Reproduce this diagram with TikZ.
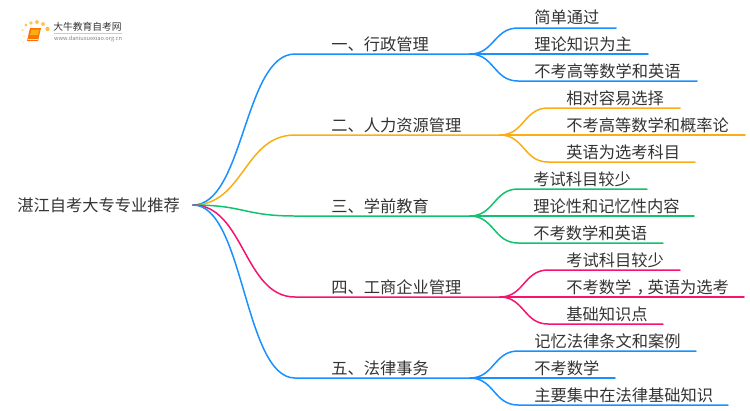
\documentclass[tikz,border=0pt]{standalone}
\usepackage{fontspec}
\setmainfont{Noto Sans CJK SC}
\usepackage{tikz}
\definecolor{mapblue}{HTML}{1890FF}
\definecolor{maporange}{HTML}{FAAD14}
\definecolor{mapgreen}{HTML}{13C26F}
\definecolor{mappink}{HTML}{F5136F}
\definecolor{maptext}{HTML}{333333}
\tikzset{
  maplabel/.style={anchor=west, inner sep=0pt, xshift=-0.02cm, text=maptext, font=\fontsize{9.25pt}{11pt}\selectfont},
  mapline/.style={line width=0.85pt, line cap=round},
}

\begin{document}
\begin{tikzpicture}[x=0.02cm, y=-0.02cm]
  \useasboundingbox (0,0) rectangle (750,410);
  % logo
  \fill [maporange!70] (26,25) circle [radius =1.7];
  \fill [maporange!70] (31,23) circle [radius =1.9];
  \fill [maporange!70] (37,22) circle [radius =2];
  \fill [maporange!70] (43,24) circle [radius =2];
  \fill [maporange!80] (47.5,29) circle [radius =2.2];
  \fill [maporange!40] (22.5,30) circle [radius =1.4];
  \fill [maporange!30] (24,36) circle [radius =1.2];
  \fill [maporange!25] (23.5,42) circle [radius =1];
  \fill [orange!90!red] (30,28) -- (41,28) -- (38,41) -- (27,41) -- cycle;
  \fill [maporange] (31.5,29.5) -- (39.5,29.5) -- (38,35) -- (30,35) -- cycle;
  \draw [white!80!orange, line width=0.4pt] (27.5,39) -- (38,39);
  \node (logoname) at (87.5,27) [inner sep=0pt, text=maptext, font=\fontsize{5.55pt}{7pt}\selectfont] {大牛教育自考网};
  \draw [gray!40, line width=0.3pt] (54,33.5) -- (122,33.5);
  \node (logourl) at (88,38.5) [inner sep=0pt, text=gray, font=\fontsize{3.2pt}{4pt}\selectfont] {www.daniuxuexiao.org.cn};
  % root
  \node (root) at (18,205) [maplabel] {湛江自考大专专业推荐};
  \coordinate (rootend) at (193,205);
  % branch one
  \node (one) at (332,44) [maplabel] {一、行政管理};
  \coordinate (onea) at (295,54);
  \coordinate (oneb) at (470,54);
  \draw [mapline, mapblue] (rootend) .. controls (244,205) and (244,54) .. (onea) -- (oneb);
  \node (onex) at (535,17) [maplabel] {简单通过};
  \node (oney) at (535,44) [maplabel] {理论知识为主};
  \node (onez) at (535,71) [maplabel] {不考高等数学和英语};
  \coordinate (onexa) at (518,28);
  \coordinate (onexb) at (616,28);
  \coordinate (oneya) at (518,54);
  \coordinate (oneyb) at (648,54);
  \coordinate (oneza) at (518,81);
  \coordinate (onezb) at (697,81);
  \draw [mapline, mapblue] (oneb) .. controls (494,54) and (494,28) .. (onexa) -- (onexb);
  \draw [mapline, mapblue] (oneb) -- (oneya) -- (oneyb);
  \draw [mapline, mapblue] (oneb) .. controls (494,54) and (494,81) .. (oneza) -- (onezb);
  % branch two
  \node (two) at (332,125) [maplabel] {二、人力资源管理};
  \coordinate (twoa) at (295,135);
  \coordinate (twob) at (500,135);
  \draw [mapline, maporange] (rootend) .. controls (244,205) and (244,135) .. (twoa) -- (twob);
  \node (twox) at (567,98) [maplabel] {相对容易选择};
  \node (twoy) at (567,125) [maplabel] {不考高等数学和概率论};
  \node (twoz) at (567,152) [maplabel] {英语为选考科目};
  \coordinate (twoxa) at (548,108);
  \coordinate (twoxb) at (680,108);
  \coordinate (twoya) at (548,135);
  \coordinate (twoyb) at (745,135);
  \coordinate (twoza) at (548,162);
  \coordinate (twozb) at (695,162);
  \draw [mapline, maporange] (twob) .. controls (524,135) and (524,108) .. (twoxa) -- (twoxb);
  \draw [mapline, maporange] (twob) -- (twoya) -- (twoyb);
  \draw [mapline, maporange] (twob) .. controls (524,135) and (524,162) .. (twoza) -- (twozb);
  % branch three
  \node (three) at (332,206) [maplabel] {三、学前教育};
  \coordinate (threea) at (295,216);
  \coordinate (threeb) at (470,216);
  \draw [mapline, mapgreen] (rootend) .. controls (244,205) and (244,216) .. (threea) -- (threeb);
  \node (threex) at (534,179) [maplabel] {考试科目较少};
  \node (threey) at (534,206) [maplabel] {理论性和记忆性内容};
  \node (threez) at (534,233) [maplabel] {不考数学和英语};
  \coordinate (threexa) at (518,189);
  \coordinate (threexb) at (647,189);
  \coordinate (threeya) at (518,216);
  \coordinate (threeyb) at (694,216);
  \coordinate (threeza) at (518,243);
  \coordinate (threezb) at (663,243);
  \draw [mapline, mapgreen] (threeb) .. controls (494,216) and (494,189) .. (threexa) -- (threexb);
  \draw [mapline, mapgreen] (threeb) -- (threeya) -- (threeyb);
  \draw [mapline, mapgreen] (threeb) .. controls (494,216) and (494,243) .. (threeza) -- (threezb);
  % branch four
  \node (four) at (332,287) [maplabel] {四、工商企业管理};
  \coordinate (foura) at (295,297);
  \coordinate (fourb) at (500,297);
  \draw [mapline, mappink] (rootend) .. controls (244,205) and (244,297) .. (foura) -- (fourb);
  \node (fourx) at (567,260) [maplabel] {考试科目较少};
  \node (foury) at (567,287) [maplabel] {不考数学\kern0.33em，\kern-0.33em 英语为选考};
  \node (fourz) at (567,314) [maplabel] {基础知识点};
  \coordinate (fourxa) at (548,270);
  \coordinate (fourxb) at (680,270);
  \coordinate (fourya) at (548,297);
  \coordinate (fouryb) at (744,297);
  \coordinate (fourza) at (548,324);
  \coordinate (fourzb) at (663,324);
  \draw [mapline, mappink] (fourb) .. controls (524,297) and (524,270) .. (fourxa) -- (fourxb);
  \draw [mapline, mappink] (fourb) -- (fourya) -- (fouryb);
  \draw [mapline, mappink] (fourb) .. controls (524,297) and (524,324) .. (fourza) -- (fourzb);
  % branch five
  \node (five) at (332,368) [maplabel] {五、法律事务};
  \coordinate (fivea) at (295,378);
  \coordinate (fiveb) at (470,378);
  \draw [mapline, mapblue] (rootend) .. controls (244,205) and (244,378) .. (fivea) -- (fiveb);
  \node (fivex) at (535,341) [maplabel] {记忆法律条文和案例};
  \node (fivey) at (535,368) [maplabel] {不考数学};
  \node (fivez) at (535,395) [maplabel] {主要集中在法律基础知识};
  \coordinate (fivexa) at (518,351);
  \coordinate (fivexb) at (696,351);
  \coordinate (fiveya) at (518,378);
  \coordinate (fiveyb) at (615,378);
  \coordinate (fiveza) at (518,405);
  \coordinate (fivezb) at (728,405);
  \draw [mapline, mapblue] (fiveb) .. controls (494,378) and (494,351) .. (fivexa) -- (fivexb);
  \draw [mapline, mapblue] (fiveb) -- (fiveya) -- (fiveyb);
  \draw [mapline, mapblue] (fiveb) .. controls (494,378) and (494,405) .. (fiveza) -- (fivezb);
\end{tikzpicture}
\end{document}
